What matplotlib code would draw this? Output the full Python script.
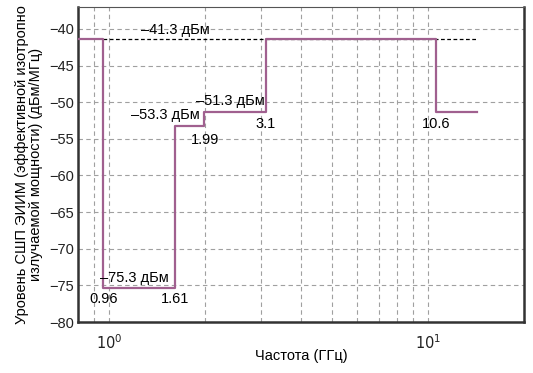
import matplotlib
matplotlib.use("Agg")
import matplotlib.pyplot as plt
import numpy as np

plt.rcParams['font.family'] = ['Liberation Sans', 'DejaVu Sans']
plt.rcParams['axes.unicode_minus'] = True

# Step mask data (frequency edges in GHz, level in dBm/MHz)
freq_edges = [0.8, 0.96, 1.61, 1.99, 3.1, 10.6, 14.2]
levels = [-41.3, -75.3, -53.3, -51.3, -41.3, -51.3]
ref_level = -41.3
ref_span = [0.96, 14.2]

level_labels = ["–41.3 дБм", "–75.3 дБм", "–53.3 дБм", "–51.3 дБм"]
freq_labels = ["0.96", "1.61", "1.99", "3.1", "10.6"]

fig = plt.figure(figsize=(5.33, 3.73), dpi=100)
ax = fig.add_axes([78/533, 1-322/373, (524-78)/533, (322-7)/373])

xs = []
ys = []
for i, lv in enumerate(levels):
    xs += [freq_edges[i], freq_edges[i+1]]
    ys += [lv, lv]
ax.plot(ref_span, [ref_level, ref_level], color='black', lw=0.9, ls=(0, (3, 2)), zorder=2)
ax.plot(xs, ys, color='#a0608f', lw=1.6, zorder=3)

ax.set_xscale('log')
ax.set_xlim(0.8, 20)
ax.set_ylim(-80, -37)
ax.set_yticks(np.arange(-80, -39, 5))
ax.set_yticklabels([f"−{abs(v)}" for v in range(-80, -39, 5)])
ax.set_xticks([1, 10])
ax.set_xticklabels([r"$10^0$", r"$10^1$"])
ax.xaxis.set_minor_locator(matplotlib.ticker.LogLocator(base=10, subs=np.arange(2, 10)))
ax.xaxis.set_minor_formatter(matplotlib.ticker.NullFormatter())
ax.grid(True, which='both', axis='x', color='#a0a0a0', ls=(0, (4, 3)), lw=0.8)
ax.grid(True, which='major', axis='y', color='#a0a0a0', ls=(0, (4, 3)), lw=0.8)
ax.tick_params(axis='both', which='both', length=0, labelsize=10.5, colors='#222222')
ax.tick_params(axis='x', pad=8)
ax.tick_params(axis='y', pad=3)

for s in ['left', 'bottom', 'right']:
    ax.spines[s].set_linewidth(1.8)
    ax.spines[s].set_color('#333333')
ax.spines['top'].set_linewidth(0.8)
ax.spines['top'].set_color('#555555')

fs = 10.5
ax.text(1.62, -40.1, level_labels[0], ha='center', va='center', fontsize=fs)
ax.text(1.2, -74.0, level_labels[1], ha='center', va='center', fontsize=fs)
ax.text(1.5, -51.8, level_labels[2], ha='center', va='center', fontsize=fs)
ax.text(2.4, -49.8, level_labels[3], ha='center', va='center', fontsize=fs)
ax.text(0.96, -76.9, freq_labels[0], ha='center', va='center', fontsize=fs)
ax.text(1.61, -76.9, freq_labels[1], ha='center', va='center', fontsize=fs)
ax.text(2.0, -55.2, freq_labels[2], ha='center', va='center', fontsize=fs)
ax.text(3.1, -53.0, freq_labels[3], ha='center', va='center', fontsize=fs)
ax.text(10.6, -53.0, freq_labels[4], ha='center', va='center', fontsize=fs)

ax.set_xlabel("Частота (ГГц)", fontsize=10.5, labelpad=-2)
ax.set_ylabel("Уровень СШП ЭИИМ (эффективной изотропно\nизлучаемой мощности) (дБм/МГц)", fontsize=10.5, labelpad=4, linespacing=1.0)

fig.savefig("out.png", dpi=100)
